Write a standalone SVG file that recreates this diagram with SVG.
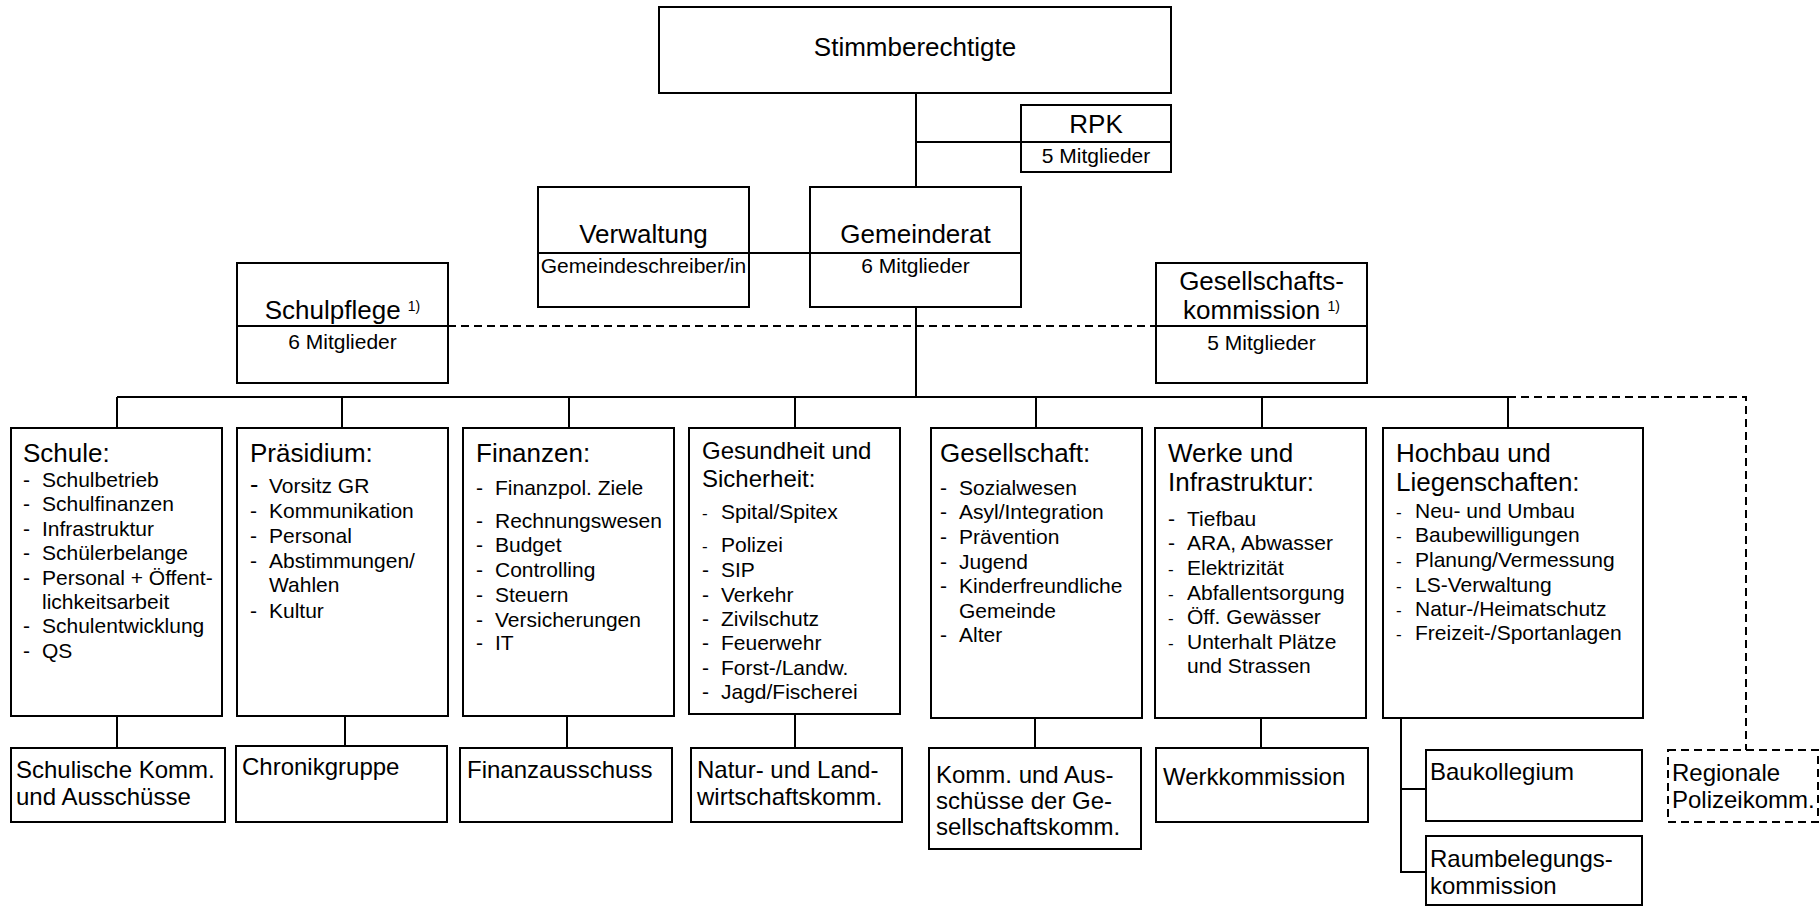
<svg xmlns="http://www.w3.org/2000/svg" width="1820" height="908" viewBox="0 0 1820 908">
<style>
text{font-family:"Liberation Sans",Arial,sans-serif;fill:#000}
.box{fill:#fff;stroke:#000;stroke-width:2}
.ln{fill:none;stroke:#000;stroke-width:2}
.dash{stroke-dasharray:8 5}
.t26{font-size:26px}
.t24{font-size:24px}
.t21{font-size:21px}
.c{text-anchor:middle}
.sup{font-size:14px}
.sd{font-size:17px}
.bd{font-size:25px}
</style>
<rect width="1820" height="908" fill="#fff"/>
<g id="connectors">
<path class="ln" d="M916 93V187M916 142H1021M749 253H810M916 307V397M117 397H1508M117 397V428M342 397V428M569 397V428M795 397V428M1036 397V428M1262 397V428M1508 397V428"/>
<path class="ln dash" d="M448 326H1156M1508 397H1746V750"/>
<path class="ln" d="M117 716V748M345 716V746M567 716V748M795 714V748M1035 718V748M1261 718V748M1401 718V872H1426M1401 789H1426"/>
</g>
<g id="stimmberechtigte">
<rect class="box" x="659" y="7" width="512" height="86"/>
<text class="t26 c" x="915" y="56">Stimmberechtigte</text>
</g>
<g id="rpk">
<rect class="box" x="1021" y="105" width="150" height="67"/>
<path class="ln" d="M1021 142H1171"/>
<text class="t26 c" x="1096" y="133">RPK</text>
<text class="t21 c" x="1096" y="163">5 Mitglieder</text>
</g>
<g id="verwaltung">
<rect class="box" x="538" y="187" width="211" height="120"/>
<path class="ln" d="M538 253H749"/>
<text class="t26 c" x="643.5" y="243">Verwaltung</text>
<text class="t21 c" x="643.5" y="273">Gemeindeschreiber/in</text>
</g>
<g id="gemeinderat">
<rect class="box" x="810" y="187" width="211" height="120"/>
<path class="ln" d="M810 253H1021"/>
<text class="t26 c" x="915.5" y="243">Gemeinderat</text>
<text class="t21 c" x="915.5" y="273">6 Mitglieder</text>
</g>
<g id="schulpflege">
<rect class="box" x="237" y="263" width="211" height="120"/>
<path class="ln" d="M237 326H448"/>
<text class="t26 c" x="342.5" y="319">Schulpflege <tspan class="sup" dy="-8">1)</tspan></text>
<text class="t21 c" x="342.5" y="349">6 Mitglieder</text>
</g>
<g id="gesellschaftskommission">
<rect class="box" x="1156" y="263" width="211" height="120"/>
<path class="ln" d="M1156 326H1367"/>
<text class="t26 c" x="1261.5" y="290">Gesellschafts-</text>
<text class="t26 c" x="1261.5" y="319">kommission <tspan class="sup" dy="-8">1)</tspan></text>
<text class="t21 c" x="1261.5" y="350">5 Mitglieder</text>
</g>
<g id="schule">
<rect class="box" x="11" y="428" width="211" height="288"/>
<text class="t26" x="23" y="462">Schule:</text>
<text class="t21"><tspan x="23" y="487">-</tspan><tspan x="42" y="487">Schulbetrieb</tspan><tspan x="23" y="511">-</tspan><tspan x="42" y="511">Schulfinanzen</tspan><tspan x="23" y="536">-</tspan><tspan x="42" y="536">Infrastruktur</tspan><tspan x="23" y="560">-</tspan><tspan x="42" y="560">Schülerbelange</tspan><tspan x="23" y="585">-</tspan><tspan x="42" y="585">Personal + Öffent-</tspan><tspan x="42" y="609">lichkeitsarbeit</tspan><tspan x="23" y="633">-</tspan><tspan x="42" y="633">Schulentwicklung</tspan><tspan x="23" y="658">-</tspan><tspan x="42" y="658">QS</tspan></text>
</g>
<g id="praesidium">
<rect class="box" x="237" y="428" width="211" height="288"/>
<text class="t26" x="250" y="462">Präsidium:</text>
<text class="t21"><tspan class="bd" x="250" y="493">-</tspan><tspan x="269" y="493">Vorsitz GR</tspan><tspan x="250" y="518">-</tspan><tspan x="269" y="518">Kommunikation</tspan><tspan x="250" y="543">-</tspan><tspan x="269" y="543">Personal</tspan><tspan x="250" y="568">-</tspan><tspan x="269" y="568">Abstimmungen/</tspan><tspan x="269" y="592">Wahlen</tspan><tspan x="250" y="618">-</tspan><tspan x="269" y="618">Kultur</tspan></text>
</g>
<g id="finanzen">
<rect class="box" x="463" y="428" width="211" height="288"/>
<text class="t26" x="476" y="462">Finanzen:</text>
<text class="t21"><tspan x="476" y="495">-</tspan><tspan x="495" y="495">Finanzpol. Ziele</tspan><tspan x="476" y="528">-</tspan><tspan x="495" y="528">Rechnungswesen</tspan><tspan x="476" y="552">-</tspan><tspan x="495" y="552">Budget</tspan><tspan x="476" y="577">-</tspan><tspan x="495" y="577">Controlling</tspan><tspan x="476" y="602">-</tspan><tspan x="495" y="602">Steuern</tspan><tspan x="476" y="627">-</tspan><tspan x="495" y="627">Versicherungen</tspan><tspan x="476" y="650">-</tspan><tspan x="495" y="650">IT</tspan></text>
</g>
<g id="gesundheit">
<rect class="box" x="689" y="428" width="211" height="286"/>
<text class="t24"><tspan x="702" y="459">Gesundheit und</tspan><tspan x="702" y="487">Sicherheit:</tspan></text>
<text class="t21"><tspan class="sd" x="702" y="519">-</tspan><tspan x="721" y="519">Spital/Spitex</tspan><tspan class="sd" x="702" y="552">-</tspan><tspan x="721" y="552">Polizei</tspan><tspan x="702" y="577">-</tspan><tspan x="721" y="577">SIP</tspan><tspan x="702" y="602">-</tspan><tspan x="721" y="602">Verkehr</tspan><tspan x="702" y="626">-</tspan><tspan x="721" y="626">Zivilschutz</tspan><tspan x="702" y="650">-</tspan><tspan x="721" y="650">Feuerwehr</tspan><tspan x="702" y="675">-</tspan><tspan x="721" y="675">Forst-/Landw.</tspan><tspan x="702" y="699">-</tspan><tspan x="721" y="699">Jagd/Fischerei</tspan></text>
</g>
<g id="gesellschaft">
<rect class="box" x="931" y="428" width="211" height="290"/>
<text class="t26" x="940" y="462">Gesellschaft:</text>
<text class="t21"><tspan x="940" y="495">-</tspan><tspan x="959" y="495">Sozialwesen</tspan><tspan x="940" y="519">-</tspan><tspan x="959" y="519">Asyl/Integration</tspan><tspan x="940" y="544">-</tspan><tspan x="959" y="544">Prävention</tspan><tspan x="940" y="569">-</tspan><tspan x="959" y="569">Jugend</tspan><tspan x="940" y="593">-</tspan><tspan x="959" y="593">Kinderfreundliche</tspan><tspan x="959" y="618">Gemeinde</tspan><tspan x="940" y="642">-</tspan><tspan x="959" y="642">Alter</tspan></text>
</g>
<g id="werke">
<rect class="box" x="1155" y="428" width="211" height="290"/>
<text class="t26"><tspan x="1168" y="462">Werke und</tspan><tspan x="1168" y="491">Infrastruktur:</tspan></text>
<text class="t21"><tspan x="1168" y="526">-</tspan><tspan x="1187" y="526">Tiefbau</tspan><tspan x="1168" y="550">-</tspan><tspan x="1187" y="550">ARA, Abwasser</tspan><tspan class="sd" x="1168" y="575">-</tspan><tspan x="1187" y="575">Elektrizität</tspan><tspan class="sd" x="1168" y="600">-</tspan><tspan x="1187" y="600">Abfallentsorgung</tspan><tspan class="sd" x="1168" y="624">-</tspan><tspan x="1187" y="624">Öff. Gewässer</tspan><tspan class="sd" x="1168" y="649">-</tspan><tspan x="1187" y="649">Unterhalt Plätze</tspan><tspan x="1187" y="673">und Strassen</tspan></text>
</g>
<g id="hochbau">
<rect class="box" x="1383" y="428" width="260" height="290"/>
<text class="t26"><tspan x="1396" y="462">Hochbau und</tspan><tspan x="1396" y="491">Liegenschaften:</tspan></text>
<text class="t21"><tspan class="sd" x="1396" y="518">-</tspan><tspan x="1415" y="518">Neu- und Umbau</tspan><tspan class="sd" x="1396" y="542">-</tspan><tspan x="1415" y="542">Baubewilligungen</tspan><tspan class="sd" x="1396" y="567">-</tspan><tspan x="1415" y="567">Planung/Vermessung</tspan><tspan class="sd" x="1396" y="592">-</tspan><tspan x="1415" y="592">LS-Verwaltung</tspan><tspan class="sd" x="1396" y="616">-</tspan><tspan x="1415" y="616">Natur-/Heimatschutz</tspan><tspan class="sd" x="1396" y="640">-</tspan><tspan x="1415" y="640">Freizeit-/Sportanlagen</tspan></text>
</g>
<g id="schulische-komm">
<rect class="box" x="11" y="748" width="214" height="74"/>
<text class="t24"><tspan x="16" y="778">Schulische Komm.</tspan><tspan x="16" y="805">und Ausschüsse</tspan></text>
</g>
<g id="chronikgruppe">
<rect class="box" x="236" y="746" width="211" height="76"/>
<text class="t24" x="242" y="775">Chronikgruppe</text>
</g>
<g id="finanzausschuss">
<rect class="box" x="460" y="748" width="212" height="74"/>
<text class="t24" x="467" y="778">Finanzausschuss</text>
</g>
<g id="natur-landwirtschaft">
<rect class="box" x="691" y="748" width="211" height="74"/>
<text class="t24"><tspan x="697" y="778">Natur- und Land-</tspan><tspan x="697" y="805">wirtschaftskomm.</tspan></text>
</g>
<g id="komm-gesellschaft">
<rect class="box" x="929" y="748" width="212" height="101"/>
<text class="t24"><tspan x="936" y="783">Komm. und Aus-</tspan><tspan x="936" y="809">schüsse der Ge-</tspan><tspan x="936" y="835">sellschaftskomm.</tspan></text>
</g>
<g id="werkkommission">
<rect class="box" x="1156" y="748" width="212" height="74"/>
<text class="t24" x="1163" y="785">Werkkommission</text>
</g>
<g id="baukollegium">
<rect class="box" x="1426" y="750" width="216" height="71"/>
<text class="t24" x="1430" y="780">Baukollegium</text>
</g>
<g id="raumbelegung">
<rect class="box" x="1426" y="836" width="216" height="69"/>
<text class="t24"><tspan x="1430" y="867">Raumbelegungs-</tspan><tspan x="1430" y="894">kommission</tspan></text>
</g>
<g id="regionale-polizeikomm">
<rect class="box dash" x="1668" y="750" width="150" height="72"/>
<text class="t24"><tspan x="1672" y="781">Regionale</tspan><tspan x="1672" y="808">Polizeikomm.</tspan></text>
</g>
</svg>
